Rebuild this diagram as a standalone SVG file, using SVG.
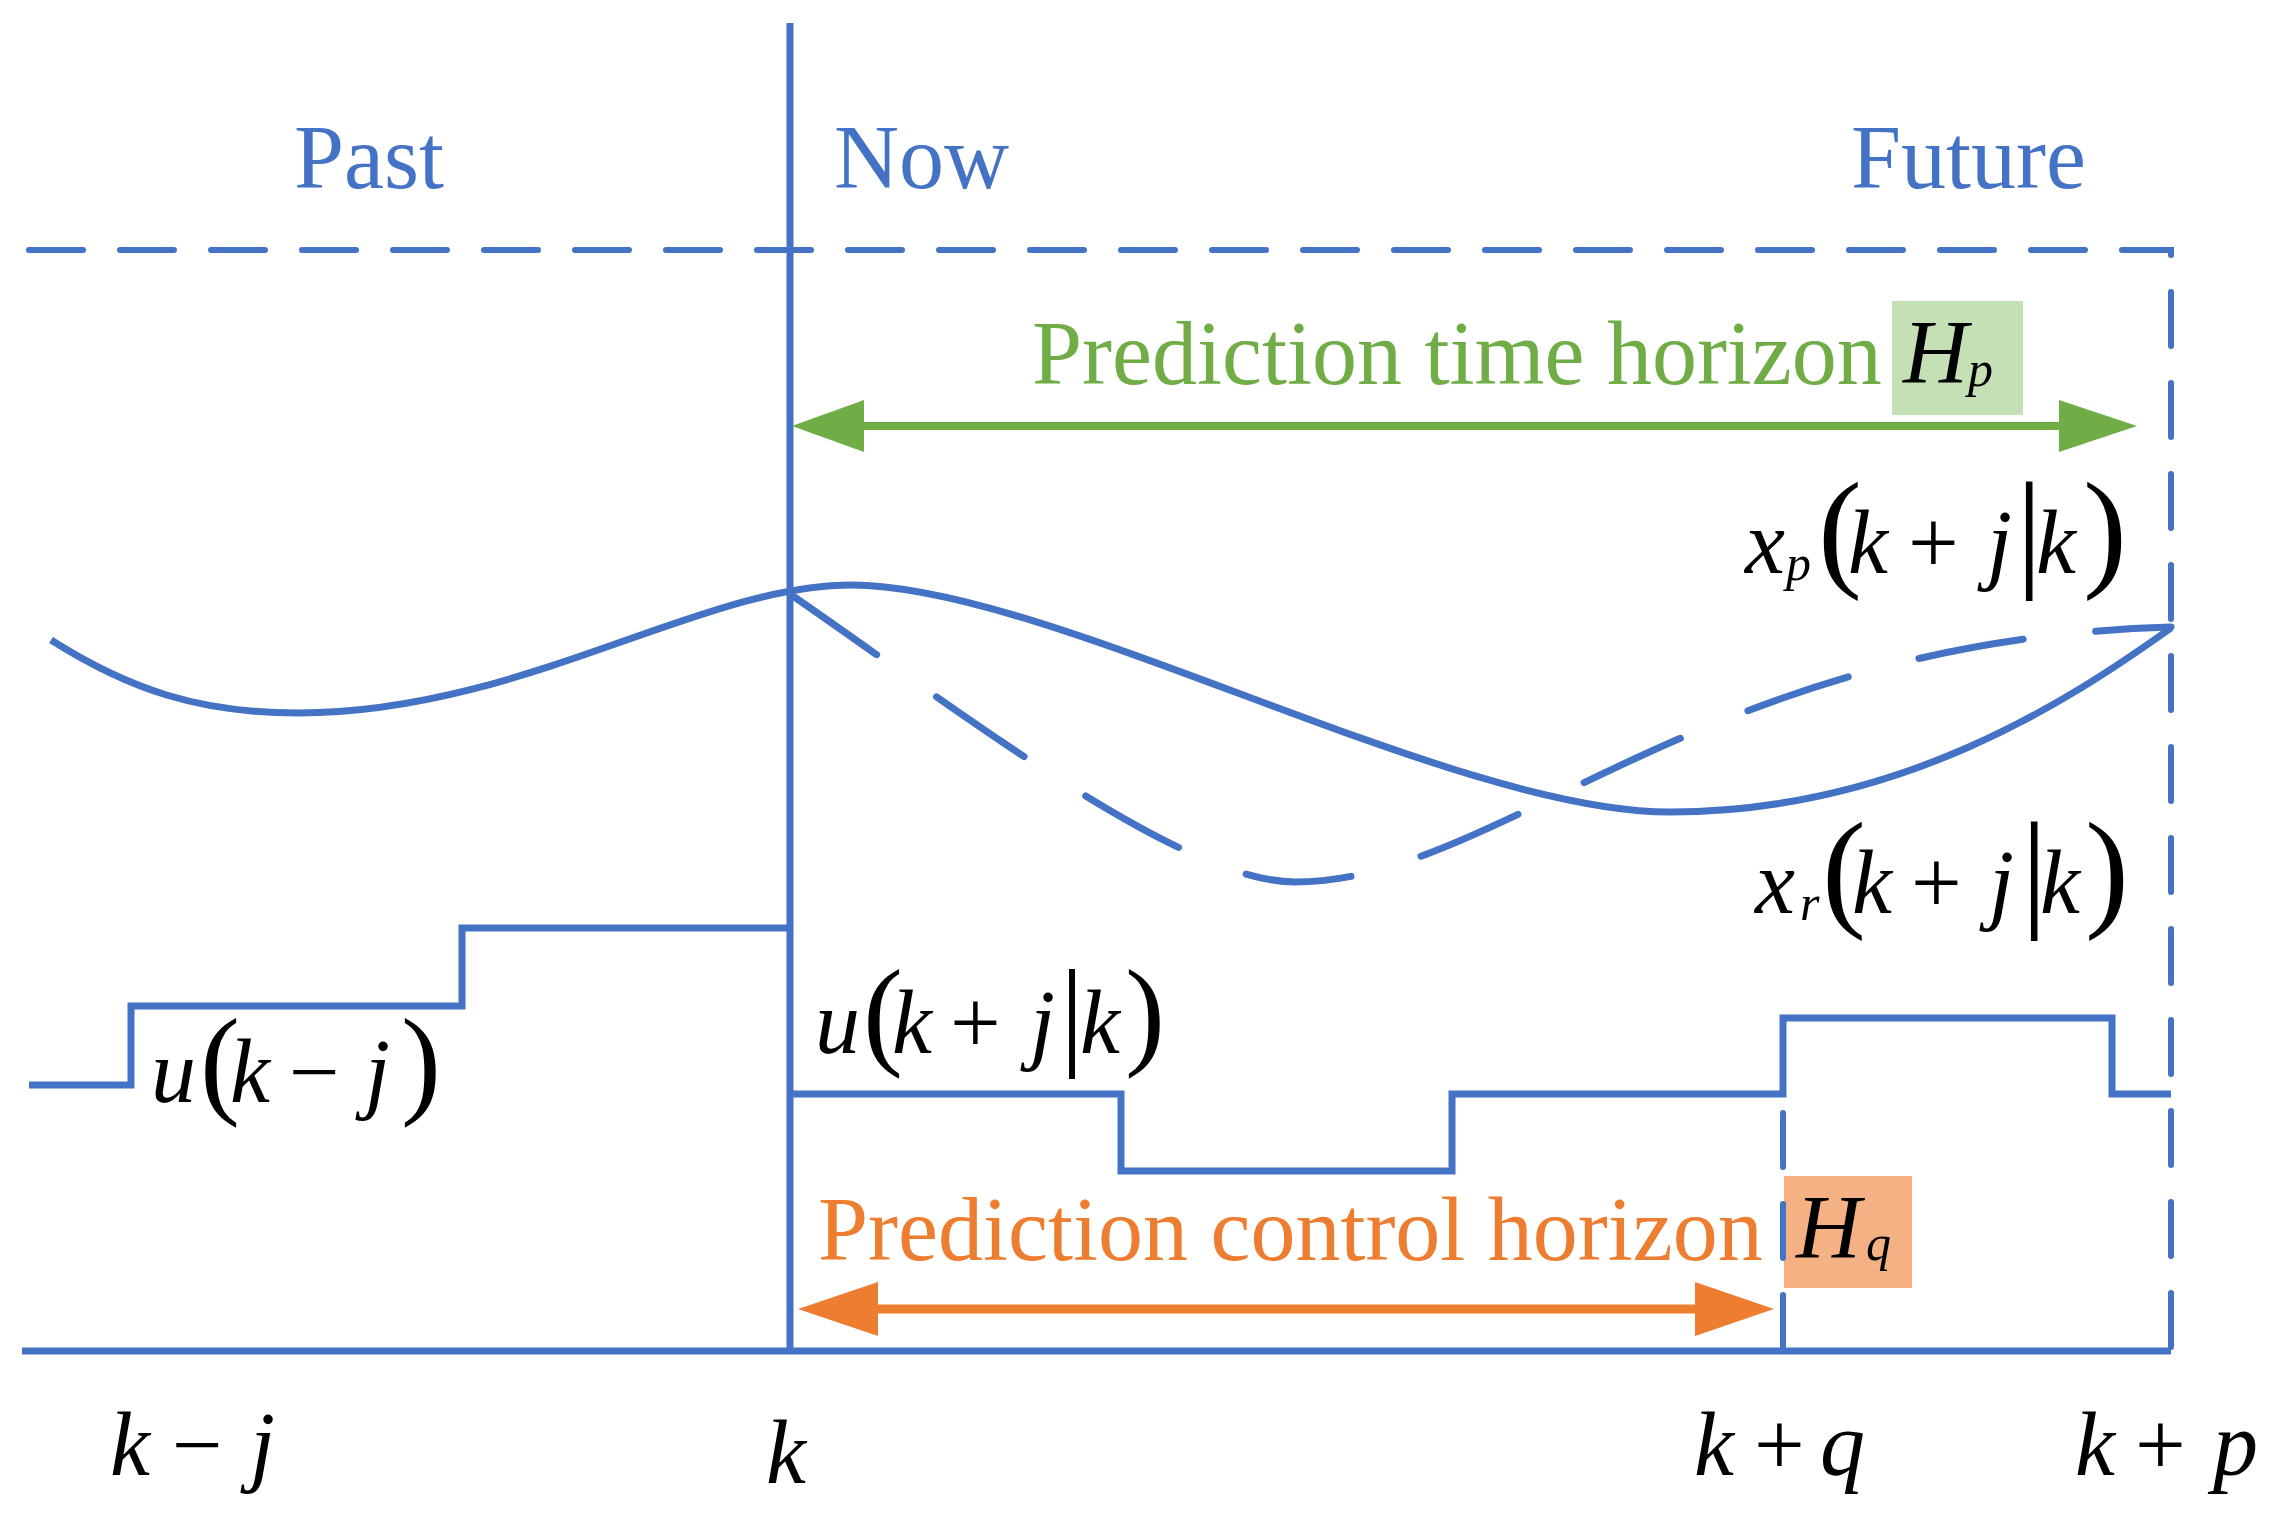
<svg xmlns="http://www.w3.org/2000/svg" width="2282" height="1516" viewBox="0 0 2282 1516">
<style>
.ln{fill:none;stroke:#4472C4;stroke-width:7;stroke-linejoin:miter}
.dash{fill:none;stroke:#4472C4;stroke-width:6;stroke-linecap:round;stroke-dasharray:54 37}
.cdash{fill:none;stroke:#4472C4;stroke-width:7;stroke-linecap:round;stroke-dasharray:106 73}
.t{font-family:"Liberation Serif","Times New Roman",serif;font-size:90px}
.lab{fill:#4472C4}
.m{fill:#000;font-style:italic}
.r{font-style:normal}
.p{font-size:120px;font-style:normal}
.p2{font-size:132px;font-style:normal}
.s{font-size:50px}
</style>
<rect width="2282" height="1516" fill="#fff"/>
<g id="boxes">
<rect id="hp-box" x="1892" y="301" width="131" height="114" fill="#C5E0B4"/>
<rect id="hq-box" x="1784" y="1176" width="128" height="112" fill="#F4B183"/>
</g>
<g id="connectors">
<path class="dash" d="M29,250 H2171 V1351"/>
<path class="dash" d="M1783,1113 V1351"/>
<path class="ln" stroke-width="8" d="M790,23 V1351"/>
<path class="ln" stroke-width="8" d="M22,1351 H2171"/>
<path id="past-step" class="ln" d="M29,1085 H131 V1006 H462 V928 H790"/>
<path id="future-step" class="ln" d="M790,1094 H1121 V1171 H1452 V1094 H1783 V1018 H2112 V1094 H2171"/>
<path id="xp-curve" class="ln" d="M51,640 C130,690 200,713 298,713 C520,713 700,585 851,585 C1050,585 1450,812 1670,812 C1900,812 2070,700 2171,628"/>
<path id="xr-curve" class="cdash" d="M790,594 C960,711 1180,882 1295,882 C1500,882 1700,640 2171,627"/>
<g id="green-arrow" fill="#70AD47">
<line x1="860" y1="426" x2="2062" y2="426" stroke="#70AD47" stroke-width="8"/>
<polygon points="792,426 864,400 864,452"/>
<polygon points="2137,426 2059,400 2059,452"/>
</g>
<g id="orange-arrow" fill="#ED7D31">
<line x1="875" y1="1309" x2="1698" y2="1309" stroke="#ED7D31" stroke-width="9"/>
<polygon points="798,1309 878,1282 878,1336"/>
<polygon points="1774,1309 1695,1282 1695,1336"/>
</g>
</g>
<g id="labels" class="t">
<text id="past" class="t lab" x="294" y="188">Past</text>
<text id="now" class="t lab" x="834" y="188">Now</text>
<text id="future" class="t lab" x="1851" y="188">Future</text>
<text id="hp-label" class="t" x="1032" y="384" fill="#70AD47">Prediction time horizon</text>
<text id="hp" class="t m" y="383"><tspan x="1903">H</tspan><tspan class="s" x="1968" y="386">p</tspan></text>
<text id="hq-label" class="t" x="818" y="1260" fill="#ED7D31">Prediction control horizon</text>
<text id="hq" class="t m" y="1258"><tspan x="1796">H</tspan><tspan class="s" x="1866" y="1260">q</tspan></text>
<text id="xp" class="t m" y="573"><tspan x="1745">x</tspan><tspan class="s" x="1786" y="580">p</tspan><tspan class="p2" x="1818" y="573">(</tspan><tspan x="1848">k</tspan><tspan class="r" x="1908">+</tspan><tspan x="1987">j</tspan><tspan class="p2" x="2016">|</tspan><tspan x="2036">k</tspan><tspan class="p2" x="2083">)</tspan></text>
<text id="xr" class="t m" y="913"><tspan x="1755">x</tspan><tspan class="s" x="1800" y="920">r</tspan><tspan class="p2" x="1822" y="913">(</tspan><tspan x="1852">k</tspan><tspan class="r" x="1911">+</tspan><tspan x="1989">j</tspan><tspan class="p2" x="2021">|</tspan><tspan x="2040">k</tspan><tspan class="p2" x="2085">)</tspan></text>
<text id="u-past" class="t m" y="1102"><tspan x="151">u</tspan><tspan class="p" x="200">(</tspan><tspan x="230">k</tspan><tspan class="r" x="289">−</tspan><tspan x="365">j</tspan><tspan class="p" x="401">)</tspan></text>
<text id="u-future" class="t m" y="1053"><tspan x="815">u</tspan><tspan class="p" x="863">(</tspan><tspan x="892">k</tspan><tspan class="r" x="950">+</tspan><tspan x="1030">j</tspan><tspan class="p" x="1060">|</tspan><tspan x="1080">k</tspan><tspan class="p" x="1125">)</tspan></text>
<text id="t-kj" class="t m" y="1475"><tspan x="110">k</tspan><tspan class="r" x="172">−</tspan><tspan x="250">j</tspan></text>
<text id="t-k" class="t m" x="766" y="1483">k</text>
<text id="t-kq" class="t m" y="1475"><tspan x="1694">k</tspan><tspan class="r" x="1754">+</tspan><tspan x="1820">q</tspan></text>
<text id="t-kp" class="t m" y="1475"><tspan x="2075">k</tspan><tspan class="r" x="2135">+</tspan><tspan x="2213">p</tspan></text>
</g>
</svg>
